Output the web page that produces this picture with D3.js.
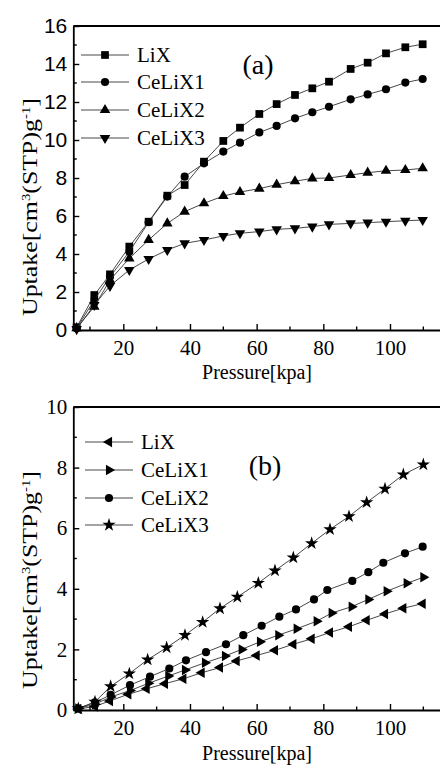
<!DOCTYPE html>
<html>
<head>
<meta charset="utf-8">
<script src="https://cdn.jsdelivr.net/npm/d3@7"></script>
<style>
	body { margin: 0; background: white; }
	svg { display: block; }
</style>
</head>
<body>
<svg id="chart" width="440" height="767" viewBox="0 0 440 767"></svg>
<script>

// ---- panel (a) data ----
const pressureA = [6, 11.3, 16, 21.8, 27.6, 33.2, 38.4, 44.2, 50, 55, 60.8, 66, 71.5, 76.7, 81.7, 88.2, 93.3, 98.8, 104.6, 109.8];
const lixA    = [0.14, 1.84, 2.93, 4.39, 5.7, 7.07, 7.63, 8.86, 9.95, 10.65, 11.37, 11.89, 12.37, 12.72, 13.07, 13.74, 14.07, 14.56, 14.88, 15.04];
const celix1A = [0.1, 1.58, 2.8, 4.12, 5.67, 7.02, 8.07, 8.77, 9.39, 9.86, 10.4, 10.74, 11.14, 11.46, 11.75, 12.14, 12.4, 12.67, 13.02, 13.21];
const celix2A = [0.1, 1.23, 2.63, 3.77, 4.74, 5.61, 6.23, 6.67, 7.05, 7.26, 7.44, 7.65, 7.83, 7.98, 8.0, 8.16, 8.28, 8.38, 8.42, 8.51];
const celix3A = [0.05, 1.32, 2.32, 3.16, 3.74, 4.21, 4.56, 4.74, 4.95, 5.09, 5.18, 5.3, 5.35, 5.44, 5.56, 5.61, 5.65, 5.7, 5.75, 5.79];

// ---- panel (b) data ----
const pressureB_lix    = [6.5, 11.5, 16, 21.5, 27, 32.5, 38, 43.5, 49, 54, 60, 65.5, 71, 76.5, 82, 87.7, 93, 98.5, 104, 109.8];
const lixB             = [0.03, 0.12, 0.3, 0.52, 0.7, 0.87, 1.03, 1.23, 1.4, 1.62, 1.8, 1.97, 2.17, 2.35, 2.56, 2.75, 2.96, 3.17, 3.36, 3.51];
const pressureB_celix1 = [6.5, 11.5, 16.2, 22, 27.5, 33.5, 38.5, 44.5, 50.5, 55.5, 61, 66.5, 72, 78, 82.5, 88.5, 93.5, 99, 105, 110];
const celix1B          = [0.05, 0.19, 0.43, 0.64, 0.88, 1.12, 1.32, 1.56, 1.78, 2.0, 2.25, 2.47, 2.68, 2.93, 3.2, 3.41, 3.65, 3.92, 4.18, 4.38];
const pressureB_celix2 = [6.5, 11.5, 16.2, 22, 28, 33.8, 38.8, 44.8, 50.8, 56, 61.5, 66.8, 71.8, 77.2, 81.2, 88.7, 93.5, 98, 104.5, 109.8];
const celix2B          = [0.05, 0.25, 0.5, 0.82, 1.1, 1.37, 1.64, 1.91, 2.17, 2.47, 2.78, 3.08, 3.32, 3.65, 3.96, 4.26, 4.55, 4.86, 5.17, 5.39];
const pressureB_celix3 = [6.5, 11.5, 16.2, 21.8, 27.3, 33, 38.5, 43.8, 49, 54.2, 60.5, 65.5, 71, 76.5, 82, 87.7, 93, 98.5, 104, 110];
const celix3B          = [0.05, 0.27, 0.78, 1.2, 1.66, 2.06, 2.47, 2.9, 3.35, 3.73, 4.19, 4.6, 5.03, 5.5, 5.96, 6.39, 6.85, 7.3, 7.77, 8.1];

const xTicks = [20, 40, 60, 80, 100];
const xMinorTicks = [10, 30, 50, 70, 90, 110];

const SERIF = '"Liberation Serif", "Times New Roman", serif';
const SANS = '"Liberation Sans", Arial, sans-serif';

const svg = d3.select('#chart');

// marker shapes: [d3 symbol, rotation, area]
const markers = {
	square:   [d3.symbolSquare, 0, 60],
	circle:   [d3.symbolCircle, 0, 52],
	triUp:    [d3.symbolTriangle, 0, 48],
	triDown:  [d3.symbolTriangle, 180, 48],
	triLeft:  [d3.symbolTriangle, -90, 48],
	triRight: [d3.symbolTriangle, 90, 48],
	star:     [d3.symbolStar, 0, 55]
};

function drawMarker(g, kind, x, y) {
	const m = markers[kind];
	g.append('path')
		.attr('d', d3.symbol().type(m[0]).size(m[2])())
		.attr('transform', 'translate(' + x + ',' + y + ') rotate(' + m[1] + ')')
		.attr('fill', 'black');
}

function drawPanel(opt) {
	const g = svg.append('g');

	const x = d3.scaleLinear().domain([5, 115]).range([73.3, 440]);
	const y = d3.scaleLinear().domain([0, opt.yMax]).range(opt.yRange);

	// series lines + markers
	opt.series.forEach(s => {
		const pts = s.x.map((px, i) => [px, s.y[i]]);
		g.append('path')
			.datum(pts)
			.attr('fill', 'none')
			.attr('stroke', '#333')
			.attr('stroke-width', 0.9)
			.attr('d', d3.line().x(d => x(d[0])).y(d => y(d[1])));
		pts.forEach(d => drawMarker(g, s.marker, x(d[0]), y(d[1])));
	});

	// axes, ticks pointing inward
	const yTicks = d3.range(0, opt.yMax + 1, 2);
	const yMinor = d3.range(1, opt.yMax, 2);

	const xAxis = g.append('g')
		.attr('transform', 'translate(0,' + opt.yRange[0] + ')')
		.call(d3.axisBottom(x).tickValues(xTicks).tickSizeInner(-6).tickSizeOuter(0).tickPadding(10));
	xAxis.append('g').selectAll('line')
		.data(xMinorTicks).enter().append('line')
		.attr('x1', d => x(d)).attr('x2', d => x(d))
		.attr('y1', 0).attr('y2', -3.5)
		.attr('stroke', 'black').attr('stroke-width', 1.4);

	const yAxis = g.append('g')
		.attr('transform', 'translate(73.3,0)')
		.call(d3.axisLeft(y).tickValues(yTicks).tickSizeInner(-6).tickSizeOuter(0).tickPadding(6));
	yAxis.append('g').selectAll('line')
		.data(yMinor).enter().append('line')
		.attr('y1', d => y(d)).attr('y2', d => y(d))
		.attr('x1', 0).attr('x2', 3.5)
		.attr('stroke', 'black').attr('stroke-width', 1.4);

	[xAxis, yAxis].forEach(a => {
		a.select('.domain').attr('stroke-width', 1.8);
		a.selectAll('.tick line').attr('stroke-width', 1.4);
		a.selectAll('text').attr('fill', 'black');
	});
	xAxis.attr('font-family', SERIF).attr('font-size', 21);
	yAxis.attr('font-family', opt.yFont === 'sans' ? SANS : SERIF).attr('font-size', 21);

	// top frame line
	g.append('line')
		.attr('x1', 73.3).attr('x2', 440)
		.attr('y1', opt.yRange[1]).attr('y2', opt.yRange[1])
		.attr('stroke', 'black').attr('stroke-width', 1.8);

	// axis titles
	g.append('text')
		.attr('font-family', SERIF)
		.attr('x', 257).attr('y', opt.xLabelY)
		.attr('text-anchor', 'middle')
		.attr('font-size', 20)
		.text('Pressure[kpa]');

	const yl = g.append('text')
		.attr('font-family', SERIF)
		.attr('transform', 'translate(' + 37 + ',' + opt.yLabelY + ') rotate(-90)')
		.attr('text-anchor', 'middle')
		.attr('font-size', 21)
		.attr('textLength', 218)
		.attr('lengthAdjust', 'spacingAndGlyphs');
	yl.append('tspan').text('Uptake[cm');
	yl.append('tspan').attr('baseline-shift', 'super').attr('font-size', 12).text('3');
	yl.append('tspan').text('(STP)g');
	yl.append('tspan').attr('baseline-shift', 'super').attr('font-size', 12).text('-1');
	yl.append('tspan').text(']');

	// legend
	opt.series.forEach((s, i) => {
		const ly = opt.legendY[i];
		g.append('line')
			.attr('x1', opt.legendX).attr('x2', opt.legendX + 48)
			.attr('y1', ly).attr('y2', ly)
			.attr('stroke', '#333').attr('stroke-width', 0.9);
		drawMarker(g, s.marker, opt.legendX + 24, ly);
		g.append('text')
			.attr('font-family', SERIF)
			.attr('x', opt.legendX + 56).attr('y', ly + 7)
			.attr('font-size', 21)
			.text(s.name);
	});

	// panel tag
	g.append('text')
		.attr('font-family', SERIF)
		.attr('x', opt.tag[1]).attr('y', opt.tag[2])
		.attr('text-anchor', 'middle')
		.attr('font-size', 28)
		.text(opt.tag[0]);
}

drawPanel({
	yMax: 16,
	yRange: [330, 26],
	yFont: 'sans',
	xLabelY: 379,
	yLabelY: 207,
	legendX: 81,
	legendY: [55, 82, 110, 138],
	tag: ['(a)', 258, 74],
	series: [
		{name: 'LiX', x: pressureA, y: lixA, marker: 'square'},
		{name: 'CeLiX1', x: pressureA, y: celix1A, marker: 'circle'},
		{name: 'CeLiX2', x: pressureA, y: celix2A, marker: 'triUp'},
		{name: 'CeLiX3', x: pressureA, y: celix3A, marker: 'triDown'}
	]
});

drawPanel({
	yMax: 10,
	yRange: [710, 407],
	yFont: 'serif',
	xLabelY: 760,
	yLabelY: 580,
	legendX: 85,
	legendY: [442, 470, 498, 525],
	tag: ['(b)', 265, 475],
	series: [
		{name: 'LiX', x: pressureB_lix, y: lixB, marker: 'triLeft'},
		{name: 'CeLiX1', x: pressureB_celix1, y: celix1B, marker: 'triRight'},
		{name: 'CeLiX2', x: pressureB_celix2, y: celix2B, marker: 'circle'},
		{name: 'CeLiX3', x: pressureB_celix3, y: celix3B, marker: 'star'}
	]
});

</script>
</body>
</html>
